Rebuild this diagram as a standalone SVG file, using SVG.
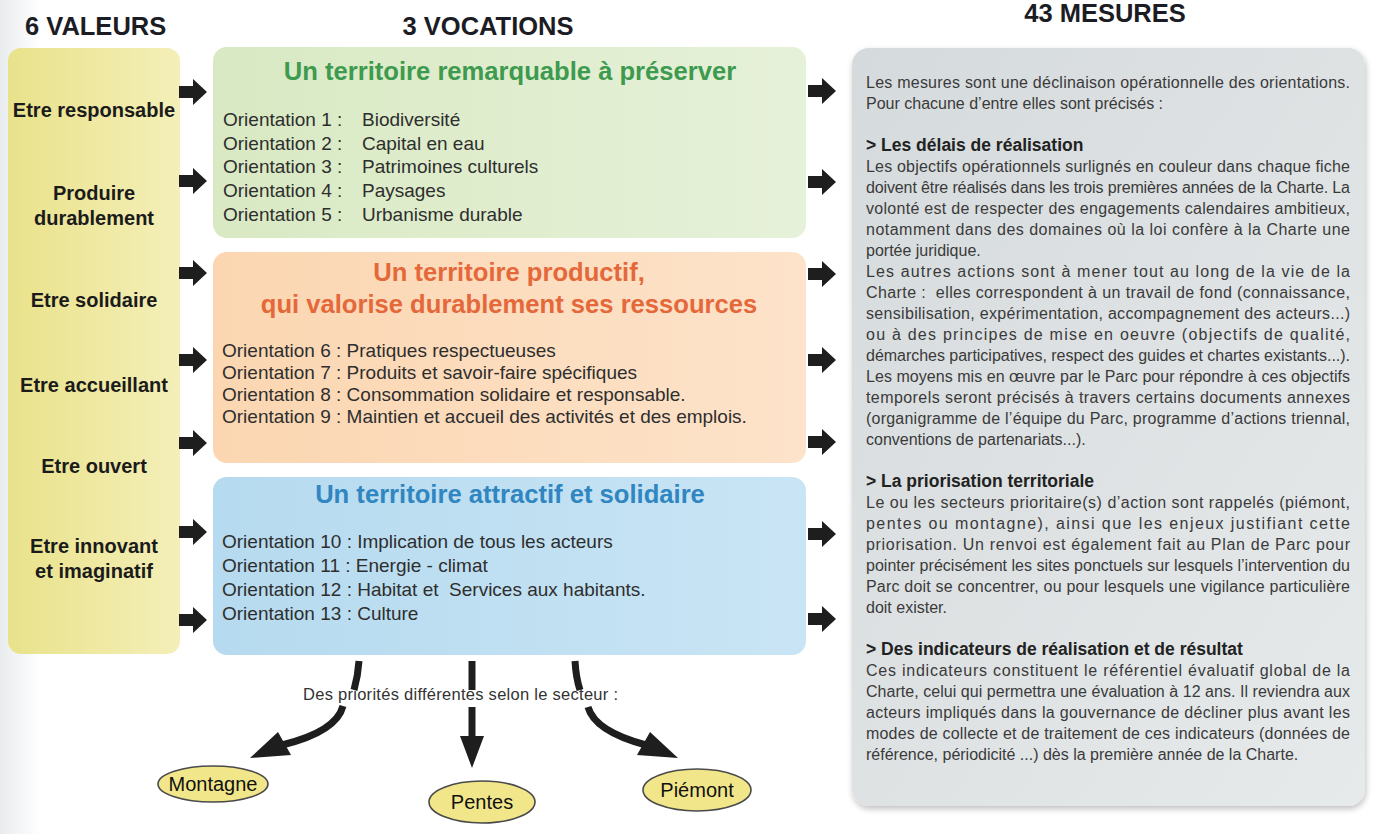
<svg xmlns="http://www.w3.org/2000/svg" width="1373" height="834" viewBox="0 0 1373 834">
<defs>
<linearGradient id="gYellow" x1="0" y1="0" x2="1" y2="0"><stop offset="0" stop-color="#e9e28b"/><stop offset="1" stop-color="#f4efb8"/></linearGradient>
<linearGradient id="gGreen" x1="0" y1="0" x2="1" y2="0"><stop offset="0" stop-color="#d9e9c3"/><stop offset="1" stop-color="#e6f1d9"/></linearGradient>
<linearGradient id="gOrange" x1="0" y1="0" x2="1" y2="0"><stop offset="0" stop-color="#fbd6b1"/><stop offset="1" stop-color="#fde3ca"/></linearGradient>
<linearGradient id="gBlue" x1="0" y1="0" x2="1" y2="0"><stop offset="0" stop-color="#b6daef"/><stop offset="1" stop-color="#c9e5f5"/></linearGradient>
<linearGradient id="gGray" x1="0" y1="0" x2="1" y2="1"><stop offset="0" stop-color="#d5dadc"/><stop offset="1" stop-color="#e7eaeb"/></linearGradient>
<linearGradient id="gBg" x1="0" y1="0" x2="1" y2="0"><stop offset="0" stop-color="#e9ecee"/><stop offset="0.03" stop-color="#ffffff"/><stop offset="1" stop-color="#ffffff"/></linearGradient>
<filter id="shadow" x="-5%" y="-5%" width="110%" height="110%"><feGaussianBlur in="SourceAlpha" stdDeviation="3"/><feOffset dx="1" dy="3"/><feComponentTransfer><feFuncA type="linear" slope="0.25"/></feComponentTransfer><feMerge><feMergeNode/><feMergeNode in="SourceGraphic"/></feMerge></filter>
<path id="blockArrow" d="M0,-6 L14,-6 L14,-13 L28,0 L14,13 L14,6 L0,6 Z"/>
</defs>
<style>
.hdr{font-family:"Liberation Sans",Arial,sans-serif;font-weight:bold;font-size:25.5px;fill:#1c1c24}
.val{font-family:"Liberation Sans",Arial,sans-serif;font-weight:bold;font-size:20px;fill:#1b1b1b;text-anchor:middle}
.ttl{font-family:"Liberation Sans",Arial,sans-serif;font-weight:bold;font-size:25.6px;text-anchor:middle}
.ori{font-family:"Liberation Sans",Arial,sans-serif;font-size:19px;fill:#2e2e2e}
.body{font-family:"Liberation Sans",Arial,sans-serif;font-size:16px;fill:#3a3a3a}
.head{font-family:"Liberation Sans",Arial,sans-serif;font-weight:bold;font-size:17.5px;fill:#222}
.sec{font-family:"Liberation Sans",Arial,sans-serif;font-size:20px;fill:#111;text-anchor:middle}
.note{font-family:"Liberation Sans",Arial,sans-serif;font-size:16.5px;fill:#333}
.arr{fill:#1e1e1e}
.stk{fill:none;stroke:#1e1e1e;stroke-width:7}
.ell{fill:#f1e78a;stroke:#4a4a4a;stroke-width:1.6}
</style>
<rect x="0" y="0" width="1373" height="834" fill="url(#gBg)"/>

<g id="headers">
<text class="hdr" x="25" y="35">6 VALEURS</text>
<text class="hdr" x="488" y="35" text-anchor="middle">3 VOCATIONS</text>
<text class="hdr" x="1105" y="22" text-anchor="middle">43 MESURES</text>
</g>

<g id="valeurs">
<rect x="8" y="48" width="172" height="606" rx="13" fill="url(#gYellow)"/>
<text class="val" x="94" y="117">Etre responsable</text>
<text class="val" x="94" y="200">Produire</text>
<text class="val" x="94" y="225">durablement</text>
<text class="val" x="94" y="307">Etre solidaire</text>
<text class="val" x="94" y="392">Etre accueillant</text>
<text class="val" x="94" y="473">Etre ouvert</text>
<text class="val" x="94" y="553">Etre innovant</text>
<text class="val" x="94" y="578">et imaginatif</text>
</g>

<g id="vocation-remarquable">
<rect x="213" y="47" width="593" height="191" rx="14" fill="url(#gGreen)"/>
<text class="ttl" x="510" y="80" fill="#3d9a4f">Un territoire remarquable à préserver</text>
<text class="ori" x="223" y="126">Orientation 1 :</text><text class="ori" x="362" y="126">Biodiversité</text>
<text class="ori" x="223" y="150">Orientation 2 :</text><text class="ori" x="362" y="150">Capital en eau</text>
<text class="ori" x="223" y="173">Orientation 3 :</text><text class="ori" x="362" y="173">Patrimoines culturels</text>
<text class="ori" x="223" y="197">Orientation 4 :</text><text class="ori" x="362" y="197">Paysages</text>
<text class="ori" x="223" y="221">Orientation 5 :</text><text class="ori" x="362" y="221">Urbanisme durable</text>
</g>

<g id="vocation-productif">
<rect x="213" y="252" width="593" height="211" rx="14" fill="url(#gOrange)"/>
<text class="ttl" x="509" y="281" fill="#e5683a">Un territoire productif,</text>
<text class="ttl" x="509" y="313" fill="#e5683a">qui valorise durablement ses ressources</text>
<text class="ori" x="222" y="357">Orientation 6 : Pratiques respectueuses</text>
<text class="ori" x="222" y="379">Orientation 7 : Produits et savoir-faire spécifiques</text>
<text class="ori" x="222" y="401">Orientation 8 : Consommation solidaire et responsable.</text>
<text class="ori" x="222" y="423">Orientation 9 : Maintien et accueil des activités et des emplois.</text>
</g>

<g id="vocation-attractif">
<rect x="213" y="477" width="593" height="178" rx="14" fill="url(#gBlue)"/>
<text class="ttl" x="510" y="503" fill="#2f86c0">Un territoire attractif et solidaire</text>
<text class="ori" x="222" y="548">Orientation 10 : Implication de tous les acteurs</text>
<text class="ori" x="222" y="572">Orientation 11 : Energie - climat</text>
<text class="ori" x="222" y="596" xml:space="preserve">Orientation 12 : Habitat et  Services aux habitants.</text>
<text class="ori" x="222" y="620">Orientation 13 : Culture</text>
</g>

<g id="mesures">
<rect x="852" y="48" width="513" height="758" rx="17" fill="url(#gGray)" filter="url(#shadow)"/>
<text class="body" x="866" y="88" textLength="484" lengthAdjust="spacing">Les mesures sont une déclinaison opérationnelle des orientations.</text>
<text class="body" x="866" y="109">Pour chacune d’entre elles sont précisés :</text>
<text class="head" x="866" y="151">&gt; Les délais de réalisation</text>
<text class="body" x="866" y="172" textLength="484" lengthAdjust="spacing">Les objectifs opérationnels surlignés en couleur dans chaque fiche</text>
<text class="body" x="866" y="193" textLength="484" lengthAdjust="spacing">doivent être réalisés dans les trois premières années de la Charte. La</text>
<text class="body" x="866" y="214" textLength="484" lengthAdjust="spacing">volonté est de respecter des engagements calendaires ambitieux,</text>
<text class="body" x="866" y="235" textLength="484" lengthAdjust="spacing">notamment dans des domaines où la loi confère à la Charte une</text>
<text class="body" x="866" y="256">portée juridique.</text>
<text class="body" x="866" y="277" textLength="484" lengthAdjust="spacing">Les autres actions sont à mener tout au long de la vie de la</text>
<text class="body" x="866" y="298" textLength="484" lengthAdjust="spacing" xml:space="preserve">Charte :  elles correspondent à un travail de fond (connaissance,</text>
<text class="body" x="866" y="319" textLength="484" lengthAdjust="spacing">sensibilisation, expérimentation, accompagnement des acteurs...)</text>
<text class="body" x="866" y="340" textLength="484" lengthAdjust="spacing">ou à des principes de mise en oeuvre (objectifs de qualité,</text>
<text class="body" x="866" y="361" textLength="484" lengthAdjust="spacing">démarches participatives, respect des guides et chartes existants...).</text>
<text class="body" x="866" y="382" textLength="484" lengthAdjust="spacing">Les moyens mis en œuvre par le Parc pour répondre à ces objectifs</text>
<text class="body" x="866" y="403" textLength="484" lengthAdjust="spacing">temporels seront précisés à travers certains documents annexes</text>
<text class="body" x="866" y="424" textLength="484" lengthAdjust="spacing">(organigramme de l’équipe du Parc, programme d’actions triennal,</text>
<text class="body" x="866" y="445">conventions de partenariats...).</text>
<text class="head" x="866" y="487">&gt; La priorisation territoriale</text>
<text class="body" x="866" y="508" textLength="484" lengthAdjust="spacing">Le ou les secteurs prioritaire(s) d’action sont rappelés (piémont,</text>
<text class="body" x="866" y="529" textLength="484" lengthAdjust="spacing">pentes ou montagne), ainsi que les enjeux justifiant cette</text>
<text class="body" x="866" y="550" textLength="484" lengthAdjust="spacing">priorisation. Un renvoi est également fait au Plan de Parc pour</text>
<text class="body" x="866" y="571" textLength="484" lengthAdjust="spacing">pointer précisément les sites ponctuels sur lesquels l’intervention du</text>
<text class="body" x="866" y="592" textLength="484" lengthAdjust="spacing">Parc doit se concentrer, ou pour lesquels une vigilance particulière</text>
<text class="body" x="866" y="613">doit exister.</text>
<text class="head" x="866" y="655">&gt; Des indicateurs de réalisation et de résultat</text>
<text class="body" x="866" y="676" textLength="484" lengthAdjust="spacing">Ces indicateurs constituent le référentiel évaluatif global de la</text>
<text class="body" x="866" y="697" textLength="484" lengthAdjust="spacing">Charte, celui qui permettra une évaluation à 12 ans. Il reviendra aux</text>
<text class="body" x="866" y="718" textLength="484" lengthAdjust="spacing">acteurs impliqués dans la gouvernance de décliner plus avant les</text>
<text class="body" x="866" y="739" textLength="484" lengthAdjust="spacing">modes de collecte et de traitement de ces indicateurs (données de</text>
<text class="body" x="866" y="760">référence, périodicité ...) dès la première année de la Charte.</text>
</g>

<g id="priorites-label">
<text class="note" x="303" y="700" textLength="315" lengthAdjust="spacing">Des priorités différentes selon le secteur :</text>
</g>

<g id="secteur-montagne">
<ellipse class="ell" cx="213" cy="784" rx="55" ry="18"/>
<text class="sec" x="213" y="791">Montagne</text>
</g>
<g id="secteur-pentes">
<ellipse class="ell" cx="482" cy="802" rx="53" ry="21"/>
<text class="sec" x="482" y="809">Pentes</text>
</g>
<g id="secteur-piemont">
<ellipse class="ell" cx="697" cy="790" rx="54" ry="21"/>
<text class="sec" x="697" y="797">Piémont</text>
</g>

<g id="connectors">
<use href="#blockArrow" class="arr" x="179" y="92"/>
<use href="#blockArrow" class="arr" x="179" y="181"/>
<use href="#blockArrow" class="arr" x="179" y="273"/>
<use href="#blockArrow" class="arr" x="179" y="360"/>
<use href="#blockArrow" class="arr" x="179" y="443"/>
<use href="#blockArrow" class="arr" x="179" y="532"/>
<use href="#blockArrow" class="arr" x="179" y="620"/>
<use href="#blockArrow" class="arr" x="808" y="91"/>
<use href="#blockArrow" class="arr" x="808" y="182"/>
<use href="#blockArrow" class="arr" x="808" y="274"/>
<use href="#blockArrow" class="arr" x="808" y="360"/>
<use href="#blockArrow" class="arr" x="808" y="442"/>
<use href="#blockArrow" class="arr" x="808" y="534"/>
<use href="#blockArrow" class="arr" x="808" y="619"/>
<path class="stk" d="M359,661 Q358,676 354,690"/>
<path class="stk" d="M472,661 L472,690"/>
<path class="stk" d="M575,661 Q576,678 580,690"/>
<path class="stk" d="M343,706 C338,725 315,737 282,745"/>
<polygon class="arr" points="250,758 278,732 291,755"/>
<path class="stk" d="M472,707 L472,738"/>
<polygon class="arr" points="460,736 484,736 472,768"/>
<path class="stk" d="M588,707 C593,725 616,737 646,745"/>
<polygon class="arr" points="678,758 650,732 637,755"/>
</g>
</svg>
